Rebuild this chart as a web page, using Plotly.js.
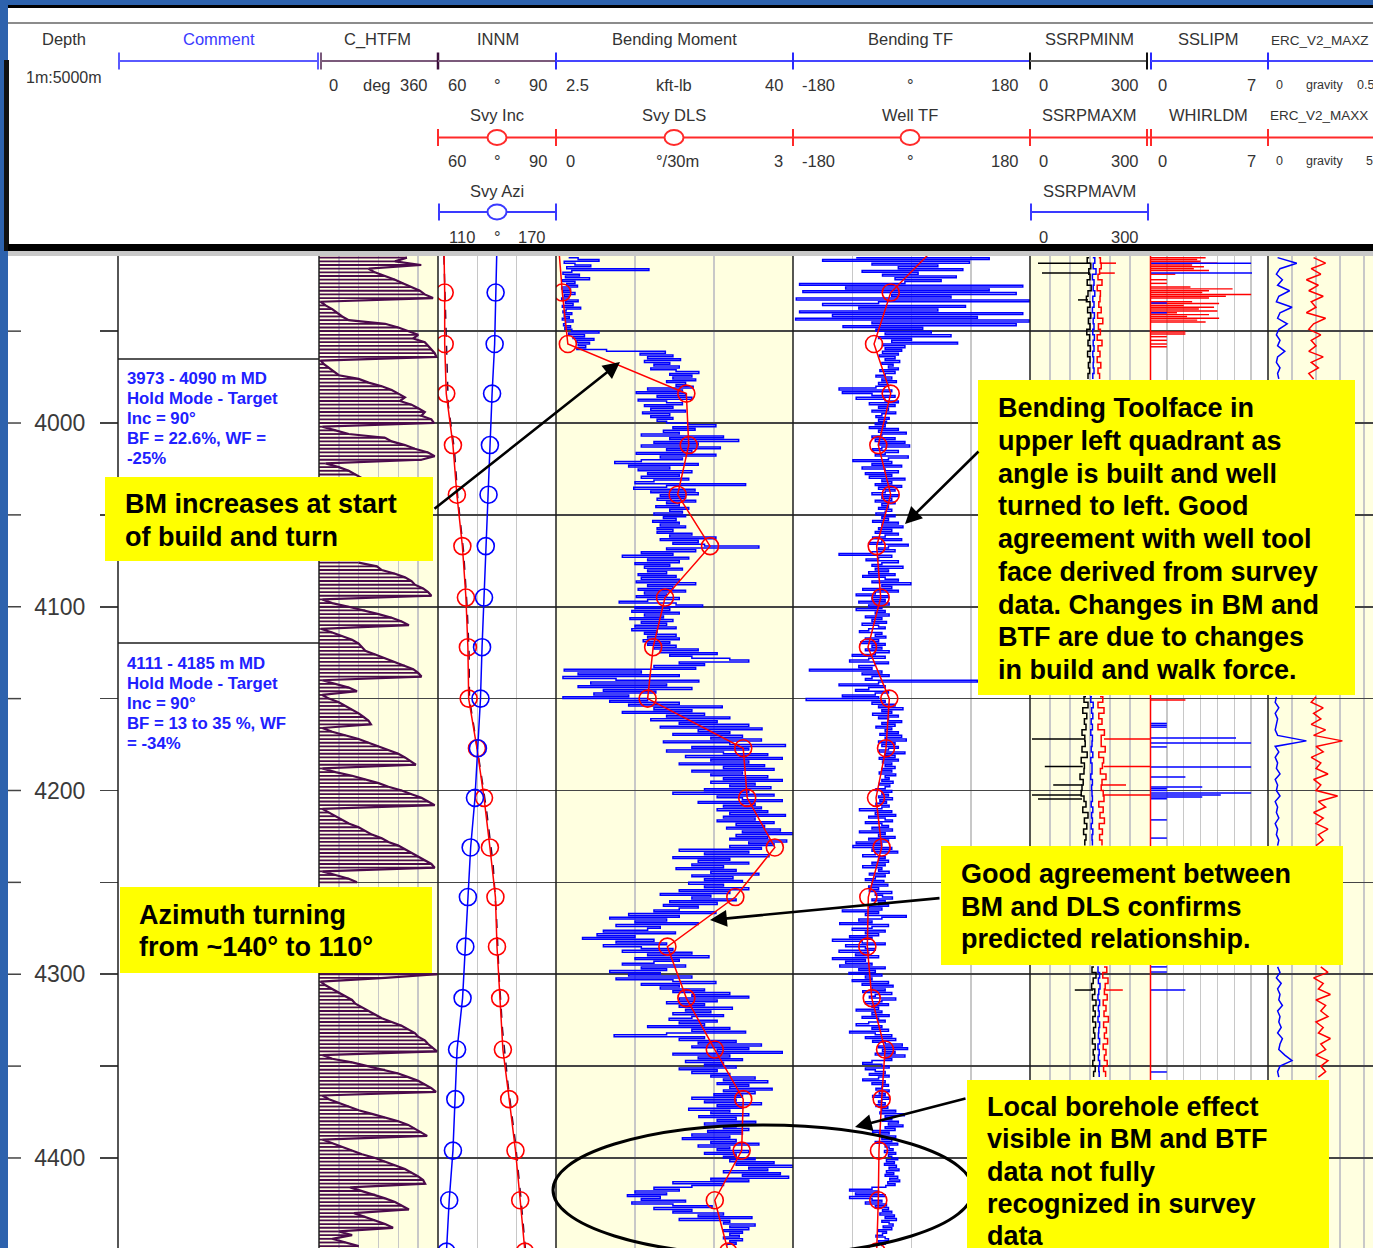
<!DOCTYPE html>
<html>
<head>
<meta charset="utf-8">
<script src="https://cdn.plot.ly/plotly-3.0.1.min.js"></script>
<style>
html,body{margin:0;padding:0;background:#ffffff;overflow:hidden;}
#chart{width:1373px;height:1248px;}
</style>
</head>
<body>
<div id="chart"></div>
<script>
// ================= DATA =================
// 1 m log sample depths (m MD) for Bending Moment / Bending Toolface
const LOG_DEPTH = [
3910,3911,3912,3913,3914,3915,3916,3917,3918,3919,
3920,3921,3922,3923,3924,3925,3926,3927,3928,3929,
3930,3931,3932,3933,3934,3935,3936,3937,3938,3939,
3940,3941,3942,3943,3944,3945,3946,3947,3948,3949,
3950,3951,3952,3953,3954,3955,3956,3957,3958,3959,
3960,3961,3962,3963,3964,3965,3966,3967,3968,3969,
3970,3971,3972,3973,3974,3975,3976,3977,3978,3979,
3980,3981,3982,3983,3984,3985,3986,3987,3988,3989,
3990,3991,3992,3993,3994,3995,3996,3997,3998,3999,
4000,4001,4002,4003,4004,4005,4006,4007,4008,4009,
4010,4011,4012,4013,4014,4015,4016,4017,4018,4019,
4020,4021,4022,4023,4024,4025,4026,4027,4028,4029,
4030,4031,4032,4033,4034,4035,4036,4037,4038,4039,
4040,4041,4042,4043,4044,4045,4046,4047,4048,4049,
4050,4051,4052,4053,4054,4055,4056,4057,4058,4059,
4060,4061,4062,4063,4064,4065,4066,4067,4068,4069,
4070,4071,4072,4073,4074,4075,4076,4077,4078,4079,
4080,4081,4082,4083,4084,4085,4086,4087,4088,4089,
4090,4091,4092,4093,4094,4095,4096,4097,4098,4099,
4100,4101,4102,4103,4104,4105,4106,4107,4108,4109,
4110,4111,4112,4113,4114,4115,4116,4117,4118,4119,
4120,4121,4122,4123,4124,4125,4126,4127,4128,4129,
4130,4131,4132,4133,4134,4135,4136,4137,4138,4139,
4140,4141,4142,4143,4144,4145,4146,4147,4148,4149,
4150,4151,4152,4153,4154,4155,4156,4157,4158,4159,
4160,4161,4162,4163,4164,4165,4166,4167,4168,4169,
4170,4171,4172,4173,4174,4175,4176,4177,4178,4179,
4180,4181,4182,4183,4184,4185,4186,4187,4188,4189,
4190,4191,4192,4193,4194,4195,4196,4197,4198,4199,
4200,4201,4202,4203,4204,4205,4206,4207,4208,4209,
4210,4211,4212,4213,4214,4215,4216,4217,4218,4219,
4220,4221,4222,4223,4224,4225,4226,4227,4228,4229,
4230,4231,4232,4233,4234,4235,4236,4237,4238,4239,
4240,4241,4242,4243,4244,4245,4246,4247,4248,4249,
4250,4251,4252,4253,4254,4255,4256,4257,4258,4259,
4260,4261,4262,4263,4264,4265,4266,4267,4268,4269,
4270,4271,4272,4273,4274,4275,4276,4277,4278,4279,
4280,4281,4282,4283,4284,4285,4286,4287,4288,4289,
4290,4291,4292,4293,4294,4295,4296,4297,4298,4299,
4300,4301,4302,4303,4304,4305,4306,4307,4308,4309,
4310,4311,4312,4313,4314,4315,4316,4317,4318,4319,
4320,4321,4322,4323,4324,4325,4326,4327,4328,4329,
4330,4331,4332,4333,4334,4335,4336,4337,4338,4339,
4340,4341,4342,4343,4344,4345,4346,4347,4348,4349,
4350,4351,4352,4353,4354,4355,4356,4357,4358,4359,
4360,4361,4362,4363,4364,4365,4366,4367,4368,4369,
4370,4371,4372,4373,4374,4375,4376,4377,4378,4379,
4380,4381,4382,4383,4384,4385,4386,4387,4388,4389,
4390,4391,4392,4393,4394,4395,4396,4397,4398,4399,
4400,4401,4402,4403,4404,4405,4406,4407,4408,4409,
4410,4411,4412,4413,4414,4415,4416,4417,4418,4419,
4420,4421,4422,4423,4424,4425,4426,4427,4428,4429,
4430,4431,4432,4433,4434,4435,4436,4437,4438,4439,
4440,4441,4442,4443,4444,4445,4446,4447,4448];

// Bending Moment (kft-lb), one value per LOG_DEPTH
const BENDING_MOMENT = [
4.5,6.0,9.3,3.8,5.5,8.0,4.2,17.2,5.0,3.6,
6.2,4.0,7.8,3.5,5.5,4.2,5.9,3.4,4.8,3.6,
5.5,3.8,4.5,3.4,6.0,4.0,5.2,3.5,6.4,4.1,
3.6,5.0,3.8,4.6,3.5,5.2,4.0,3.7,4.8,3.9,
5.0,9.3,4.5,7.0,5.2,8.5,5.8,7.8,6.0,7.2,
5.8,10.5,19.8,15.8,21.0,17.0,22.2,16.5,20.5,18.0,
22.0,17.5,21.5,25.1,20.5,24.0,21.0,24.6,20.0,23.0,
21.5,24.2,17.0,22.5,15.2,23.0,18.5,24.0,15.5,20.0,
22.5,16.5,21.0,17.5,23.0,16.2,20.5,17.5,21.0,18.5,
20.0,23.5,27.8,21.0,24.5,19.5,22.0,16.0,29.0,20.5,
31.4,18.0,25.0,16.0,28.5,20.0,24.0,15.2,27.8,19.0,
22.5,16.0,11.8,25.0,14.0,20.5,15.5,24.0,17.0,22.0,
16.0,23.5,18.0,15.0,32.5,20.0,14.8,24.5,17.5,25.0,
19.0,23.0,18.5,24.6,20.0,22.0,18.3,23.5,20.5,22.5,
18.0,23.0,19.5,21.5,17.8,22.0,19.0,23.0,18.5,21.0,
18.5,24.0,20.5,27.8,19.0,25.0,21.0,26.0,34.6,20.0,
24.6,16.0,21.0,13.0,23.5,17.0,22.0,15.0,20.5,16.5,
22.5,17.0,20.0,15.5,21.5,16.0,22.0,15.2,24.6,17.0,
21.0,15.5,23.0,16.5,20.0,15.2,22.0,17.0,12.5,21.5,
25.7,15.0,20.5,14.5,22.0,16.5,19.5,14.2,21.0,16.0,
20.0,15.0,21.5,14.5,18.5,16.5,21.5,17.0,22.0,16.3,
20.5,17.0,21.5,18.0,25.0,19.0,28.0,20.5,24.0,30.0,
33.0,22.0,26.0,18.0,24.6,3.8,16.0,6.0,22.0,3.6,
12.0,25.1,8.0,20.0,6.0,24.0,10.0,18.3,8.5,14.0,
3.6,17.0,11.0,22.0,14.0,28.8,18.0,24.0,13.0,26.0,
20.0,30.0,17.5,28.0,22.0,33.0,19.0,35.1,25.0,30.0,
21.0,32.0,27.0,35.0,19.5,30.0,38.8,24.0,33.0,20.0,
29.0,36.0,23.0,38.3,27.0,33.0,22.0,35.5,29.0,37.0,
24.0,32.0,27.0,36.0,29.0,38.3,27.0,34.0,30.0,36.5,
26.0,33.0,21.0,37.0,28.0,32.0,38.3,25.0,34.0,29.0,
35.0,28.0,36.0,30.0,38.8,29.0,34.0,28.0,37.0,31.0,
35.5,29.5,38.0,32.0,40.0,31.0,36.0,30.0,39.0,33.0,
37.0,30.0,35.0,22.0,33.0,26.0,36.2,21.0,30.0,25.0,
33.0,24.0,29.0,21.5,31.0,27.0,34.6,24.0,30.5,26.0,
32.0,23.5,29.0,26.0,33.0,22.0,30.0,19.0,27.0,24.0,
31.0,20.5,28.0,19.5,25.0,22.0,18.0,27.8,14.0,22.0,
11.0,20.0,15.0,25.0,12.0,19.0,17.0,10.0,21.4,9.0,
15.0,6.7,18.0,12.0,20.0,10.0,16.0,21.0,13.0,24.0,
17.0,26.7,15.0,22.0,18.0,13.0,23.0,16.0,20.0,11.0,
19.0,14.0,24.0,12.0,21.0,27.8,16.0,22.0,19.0,26.0,
21.0,30.0,24.0,33.0,22.0,28.0,20.0,26.0,22.0,30.4,
23.0,27.0,21.0,29.0,24.0,20.4,28.0,22.0,26.0,17.0,
30.0,24.0,32.5,20.0,11.7,26.0,22.0,31.0,25.0,35.0,
24.0,33.0,28.0,38.3,21.0,30.0,25.0,32.0,23.0,29.0,
26.0,31.0,22.0,28.0,24.0,30.0,27.0,34.0,29.0,36.0,
28.0,33.0,30.0,36.7,29.0,34.0,27.5,32.0,24.0,31.0,
26.0,35.0,28.0,32.0,23.5,30.0,27.0,33.0,25.1,31.0,
28.0,34.1,26.0,31.0,29.0,33.0,26.5,32.0,24.0,30.0,
22.5,31.0,27.0,34.6,25.0,30.0,28.0,33.0,26.0,31.0,
29.0,34.0,30.0,37.0,31.0,40.0,33.0,36.0,29.0,38.0,
32.0,39.3,27.0,33.0,21.0,29.0,24.0,18.0,22.0,15.0,
20.0,13.8,19.0,16.0,23.0,14.5,21.0,27.2,18.0,24.0,
21.0,29.0,25.0,33.5,22.0,30.0,29.0,34.0,30.0,33.0,
29.0,32.0,30.0,31.5,29.0,32.0,30.0,31.0,29.5];

// Bending Toolface (deg), one value per LOG_DEPTH
const BENDING_TF = [
-84,118,-135,88,-60,40,-20,78,-75,10,
-44,68,-25,45,-10,-170,169,-100,118,-165,
159,-30,60,-175,179,-50,-135,82,-80,40,
-170,169,-120,100,-176,179,-60,159,-104,17,
-54,30,-40,60,-50,0,-30,70,-44,-10,
-40,-15,-44,-20,-49,-25,-40,-18,-45,-28,
-35,-20,-48,-25,-40,-54,-30,-45,-23,-50,
-35,-54,-110,-30,-105,-60,-25,-84,-40,-20,
-64,-25,-50,-35,-60,-24,-45,-54,-34,-50,
-38,-55,-40,-64,-20,-50,-8,-45,-60,-25,
-55,-10,-50,-3,-45,-59,-20,-40,-55,-5,
-35,-89,-30,-60,-15,-75,-40,-20,-70,-30,
-64,-10,-45,-30,-55,-15,-50,-25,-40,-60,
-20,-45,-30,-55,-25,-45,-35,-50,-30,-40,
-54,-25,-45,-35,-59,-20,-45,-13,-50,-30,
-55,-20,-40,-59,-15,-45,-64,-5,-35,-50,
-25,-60,-110,-30,-50,-69,-20,-45,-60,-13,
-55,-35,-65,-25,-74,-40,-20,-60,-1,-45,
-30,-74,-20,-55,-84,-35,-60,-40,-80,-34,
-65,-45,-84,-40,-55,-34,-70,-45,-60,-38,
-75,-50,-40,-65,-79,-45,-55,-39,-70,-50,
-77,-40,-60,-45,-70,-34,-55,-90,-40,-65,
-94,-35,-55,-80,-60,-155,-45,-75,-34,-60,
-70,100,-50,-110,-40,-65,-85,-35,-55,-105,
-50,-160,-40,-60,-25,-50,-13,-45,-30,-59,
-20,-50,-35,-15,-45,-25,-54,-30,-40,-20,
-48,-15,-40,-8,-50,-25,-45,-20,-35,-49,
-10,-40,-25,-49,-20,-44,-30,-40,-25,-45,
-30,-49,-24,-40,-34,-45,-28,-49,-33,-40,
-54,-30,-45,-35,-50,-29,-48,-38,-54,-34,
-45,-79,-30,-55,-24,-65,-40,-29,-70,-45,
-35,-60,-29,-79,-40,-50,-25,-65,-35,-84,
-45,-89,-30,-60,-21,-55,-74,-40,-50,-35,
-60,-40,-74,-45,-50,-34,-64,-40,-55,-70,
-42,-60,-36,-65,-50,-64,-30,-55,-44,-29,
-60,-40,-50,-35,-64,-45,-105,-50,-70,-8,
-45,-80,-60,-109,-35,-60,-90,-40,-70,-50,
-94,-60,-120,-75,-40,-100,-70,-55,-110,-65,
-85,-50,-120,-70,-100,-60,-109,-40,-80,-55,
-95,-45,-70,-60,-90,-35,-75,-28,-60,-40,
-74,-30,-55,-64,-24,-45,-70,-35,-60,-50,
-84,-45,-60,-34,-75,-50,-40,-65,-84,-45,
-60,-35,-94,-55,-30,-70,-24,-59,-40,-14,
-50,-6,-44,-25,-55,-10,-40,-30,-60,-74,
-45,-34,-70,-55,-40,-64,-34,-50,-74,-40,
-60,-35,-45,-54,-34,-49,-40,-59,-34,-45,
-50,-40,-54,-36,-45,-24,-48,-11,-40,-30,
-44,-20,-35,-13,-40,-25,-59,-34,-50,-24,
-45,-30,-55,-21,-40,-34,-28,-41,-24,-35,
-30,-21,-38,-26,-41,-23,-34,-19,-38,-27,
-40,-21,-33,-18,-36,-25,-39,-60,-94,-50,
-85,-40,-94,-60,-45,-70,-38,-55,-35,-44,
-30,-48,-26,-40,-23,-45,-34,-28,-43,-30,
-50,-38,-44,-54,-40,-35,-50,-40,-45];

// C_HTFM high-side toolface (deg) at 2 m samples; null where hidden by the call-out boxes
const HTFM_DEPTH = [
3910,3912,3914,3916,3918,3920,3922,3924,3926,3928,
3930,3932,3934,3936,3938,3940,3942,3944,3946,3948,
3950,3952,3954,3956,3958,3960,3962,3964,3966,3968,
3970,3972,3974,3976,3978,3980,3982,3984,3986,3988,
3990,3992,3994,3996,3998,4000,4002,4004,4006,4008,
4010,4012,4014,4016,4018,4020,4022,4024,4026,4028,
4030,4032,4034,4036,4038,4040,4042,4044,4046,4048,
4050,4052,4054,4056,4058,4060,4062,4064,4066,4068,
4070,4072,4074,4076,4078,4080,4082,4084,4086,4088,
4090,4092,4094,4096,4098,4100,4102,4104,4106,4108,
4110,4112,4114,4116,4118,4120,4122,4124,4126,4128,
4130,4132,4134,4136,4138,4140,4142,4144,4146,4148,
4150,4152,4154,4156,4158,4160,4162,4164,4166,4168,
4170,4172,4174,4176,4178,4180,4182,4184,4186,4188,
4190,4192,4194,4196,4198,4200,4202,4204,4206,4208,
4210,4212,4214,4216,4218,4220,4222,4224,4226,4228,
4230,4232,4234,4236,4238,4240,4242,4244,4246,4248,
4250,4252,4254,4256,4258,4260,4262,4264,4266,4268,
4270,4272,4274,4276,4278,4280,4282,4284,4286,4288,
4290,4292,4294,4296,4298,4300,4302,4304,4306,4308,
4310,4312,4314,4316,4318,4320,4322,4324,4326,4328,
4330,4332,4334,4336,4338,4340,4342,4344,4346,4348,
4350,4352,4354,4356,4358,4360,4362,4364,4366,4368,
4370,4372,4374,4376,4378,4380,4382,4384,4386,4388,
4390,4392,4394,4396,4398,4400,4402,4404,4406,4408,
4410,4412,4414,4416,4418,4420,4422,4424,4426,4428,
4430,4432,4434,4436,4438,4440,4442,4444,4446,4448];
const C_HTFM = [
266,230,309,150,169,200,230,255,280,305,
320,345,5,20,40,55,70,90,200,240,
270,300,285,320,330,340,350,355,5,15,
30,45,60,120,150,190,220,240,260,245,
280,300,320,310,340,348,10,50,90,200,
220,260,290,330,350,310,20,60,90,110,
130,null,null,null,null,null,null,null,null,null,
null,null,null,null,null,null,null,null,null,null,
null,null,null,120,175,190,230,260,280,290,
315,330,340,10,40,90,140,180,220,250,
272,5,40,70,100,120,130,140,170,200,
230,260,285,300,310,10,50,90,115,10,
30,60,80,100,120,135,150,157,10,40,
80,120,150,180,210,240,260,275,293,10,
50,100,140,180,210,250,280,310,330,350,
10,30,50,70,90,120,140,160,190,210,
240,260,280,300,320,340,350,10,50,90,
115,null,null,null,null,null,null,null,null,null,
null,null,null,null,null,null,null,null,null,null,
null,null,null,null,null,357,200,5,20,40,
60,80,100,110,130,150,170,190,220,250,
270,290,300,320,330,345,357,10,40,100,
150,200,240,270,300,320,340,354,10,30,
60,90,120,160,200,240,270,290,310,327,
10,40,70,100,130,170,200,230,260,280,
300,315,321,94,130,170,200,230,250,272,
106,140,170,200,224,60,100,40,80,120];

// Survey stations
const SVY_DEPTH = [3902,3929,3957,3984,4012,4039,4067,4095,4122,4150,4177,4204,4231,4258,4285,4313,4341,4368,4396,4423,4451];
const SVY_INC   = [61.5,61.7,61.7,62.1,63.8,64.8,66.2,67.1,67.6,67.8,69.9,71.7,73.2,74.6,75.0,75.8,76.5,78.1,79.7,80.9,82.1];
const SVY_AZI   = [140.0,139.3,138.8,137.5,136.4,135.7,134.3,133.4,132.4,131.6,130.3,128.8,126.6,125.2,123.9,122.5,119.7,118.8,117.6,115.7,114.3];
const SVY_DLS   = [0.03,0.08,0.15,1.65,1.68,1.54,1.95,1.38,1.23,1.16,2.37,2.42,2.77,2.27,1.41,1.65,2.01,2.37,2.35,2.01,2.18];
const SVY_WTF   = [43,-31.6,-56.9,-31.6,-50.4,-31.6,-52.9,-46.8,-66.1,-33.7,-38.7,-53.9,-45.3,-65.6,-67.1,-60.4,-40.2,-45.3,-49.4,-50.4,-52.9];

// INNM continuous inclination (deg)
const INNM_DEPTH = [3909,3935,3960,3990,4015,4040,4070,4100,4125,4150,4180,4210,4240,4270,4300,4330,4360,4390,4420,4449];
const INNM       = [61.5,61.9,62.1,62.6,64.2,65.0,66.5,67.4,67.9,68.0,70.2,72.3,74.0,74.9,75.5,76.4,77.8,79.6,81.0,82.2];

// Depths of the visible stretches of the RPM / ERC tracks (null = hidden by boxes)
const BLOCK_DEPTH = [3910,3913,3916,3919,3922,3925,3928,3931,3934,3937,3940,3943,3946,3949,3952,3955,3958,3961,3964,3967,3970,3973,3976,null,
4149,4152,4155,4158,4161,4164,4167,4170,4173,4176,4179,4182,4185,4188,4191,4194,4197,4200,4203,4206,4209,4212,4215,4218,4221,4224,4227,4230,null,
4296,4299,4302,4305,4308,4311,4314,4317,4320,4323,4326,4329,4332,4335,4338,4341,4344,4347,4350,4353,4356];
const SSRPMINM = [148,143,152,147,150,143,153,145,141,150,144,152,146,150,142,149,145,151,144,150,146,149,145,null,
140,135,145,132,142,136,140,130,137,138,130,143,128,136,135,125,133,130,128,135,140,132,145,136,142,134,140,137,null,
160,155,165,158,154,162,156,165,158,163,157,164,159,162,156,163,158,161,157,163,159];
const SSRPMAVM = [157,162,158,165,156,160,158,162,157,160,156,161,158,160,157,161,158,160,157,159,158,160,157,null,
155,152,158,154,157,153,156,152,156,155,153,157,152,155,155,152,156,154,155,156,153,157,154,156,153,157,155,156,null,
172,170,174,171,175,172,170,174,171,173,170,174,172,171,174,170,173,171,174,172,173];
const SSRPMAXM = [172,176,178,174,170,180,168,176,175,172,178,169,182,171,176,168,180,170,175,168,177,170,174,null,
175,182,170,185,172,180,170,186,178,178,188,172,184,181,176,190,180,178,183,185,172,183,175,186,173,181,174,180,null,
185,192,182,195,188,186,193,183,190,185,196,184,191,186,194,183,190,186,193,184,189];
// single-sample RPM excursions (horizontal spikes)
const RPM_SPIKE_DEPTH = [3913,3918.4,3933,4172,4187,4197,4202.5,4204.6,4308.6];
const RPM_MIN_LOW     = [20,30,120,5,37,58,5,20,112];
const RPM_MIN_HIGH    = [150,150,145,135,132,130,130,130,158];
const RPM_MAX_LOW     = [176,175,null,185,184,180,183,null,188];
const RPM_MAX_HIGH    = [215,212,null,300,300,240,300,null,232];

const ERC_MAXZ = [0.04,0.12,0.05,0.035,0.06,0.04,0.09,0.045,0.035,0.1,0.05,0.04,0.08,0.045,0.035,0.05,0.04,0.07,0.04,0.035,0.05,0.04,0.045,null,
0.035,0.03,0.045,0.03,0.04,0.035,0.03,0.04,0.16,0.03,0.045,0.03,0.04,0.035,0.05,0.03,0.04,0.035,0.05,0.03,0.04,0.035,0.045,0.03,0.04,0.035,0.045,0.04,null,
0.04,0.05,0.035,0.055,0.04,0.05,0.045,0.06,0.04,0.05,0.045,0.055,0.04,0.06,0.05,0.045,0.07,0.1,0.05,0.04,0.045];
const ERC_MAXX = [1.9,2.4,1.8,2.2,1.6,2.1,1.7,2.3,1.8,2.0,1.6,2.4,1.9,1.7,2.2,1.8,2.0,1.7,2.3,1.8,2.1,1.7,1.9,null,
2.0,1.8,2.3,1.9,2.2,1.8,2.4,1.9,3.1,2.0,2.3,1.8,2.2,2.0,2.5,1.9,2.2,2.0,2.9,2.1,2.4,1.9,2.3,2.0,2.5,2.1,2.3,2.0,null,
2.2,2.5,1.9,2.3,2.1,2.6,2.0,2.4,2.2,2.5,2.0,2.3,2.1,2.6,2.2,2.4,2.0,2.5,2.2,2.4,2.1];

// SSLIPM (blue) and WHIRLDM (red) events
const SLIP_DEPTH = [3913,3918.4,3934.7,3940,4163.5,4164.5,4165.5,4171.4,4174.1,4176.3,4187.2,4192.7,4198.1,4199,4200,4201.4,4202.5,4203.5,4204.5,4216,4225.9,4296,4298.8,4308.6,4353.2];
const SSLIPM     = [6.0,6.05,1.0,1.0,1.0,1.0,1.0,5.1,6.0,1.0,6.0,2.1,3.1,1.0,1.0,6.0,4.2,3.1,1.0,1.0,1.0,1.0,1.0,2.1,1.0];
const WHIRL_DEPTH = [3910,3911,3912,3913,3914,3915,3916,3917,3919,3922,3924,3926,3927,3928,3929,3930,3931,3932,3934,3935,3936,3937,3938,3939,3940,3941,3942,3943,3944,3945,3950.5,3951.5,3953,3955,3957,3958.5,4150.7];
const WHIRLDM     = [3.3,2.8,3.0,4.0,2.5,3.2,2.6,3.5,1.5,1.0,1.0,2.4,4.9,3.5,3.1,6.0,4.5,3.5,2.5,4.1,2.0,3.8,2.9,4.0,1.6,3.5,2.2,4.1,2.8,3.3,2.1,2.1,1.0,1.0,1.0,1.0,2.1];

// Depth axis ticks
const DEPTH_TICKS  = [3950,4000,4050,4100,4150,4200,4250,4300,4350,4400];
const DEPTH_LABELS = ['','4000','','4100','','4200','','4300','','4400'];

// Texts
const COMMENT_1 = ['3973 - 4090 m MD','Hold Mode - Target','Inc = 90°','BF = 22.6%, WF =','-25%'];
const COMMENT_2 = ['4111 - 4185 m MD','Hold Mode - Target','Inc = 90°','BF = 13 to 35 %, WF','= -34%'];
const NOTE_BM   = ['BM increases at start','of build and turn'];
const NOTE_BTF  = ['Bending Toolface in','upper left quadrant as','angle is built and well','turned to left. Good','agreement with well tool','face derived from survey','data. Changes in BM and','BTF are due to changes','in build and walk force.'];
const NOTE_DLS  = ['Good agreement between','BM and DLS confirms','predicted relationship.'];
const NOTE_AZI  = ['Azimuth turning','from ~140° to 110°'];
const NOTE_LOC  = ['Local borehole effect','visible in BM and BTF','data not fully','recognized in survey','data'];

// ================= LAYOUT HELPERS =================
const W = 1373, H = 1248;
const PX = v => v / W;
const PY = v => 1 - v / H;
const FONT = 'Liberation Sans, Arial, Helvetica, sans-serif';
const YEL = '#FFFFE0';
const BLUE = '#0000FF', RED = '#FF0000', PURPLE = '#4B0A4B';

// build horizontal spike segments (x pairs at one depth, separated by null)
function spikes(depths, lows, highs) {
  const xs = [], ys = [];
  depths.forEach((d, i) => {
    if (lows[i] === null || highs[i] === null) return;
    xs.push(lows[i], highs[i], null); ys.push(d, d, null);
  });
  return {x: xs, y: ys};
}
const minSp = spikes(RPM_SPIKE_DEPTH, RPM_MIN_LOW, RPM_MIN_HIGH);
const maxSp = spikes(RPM_SPIKE_DEPTH, RPM_MAX_LOW, RPM_MAX_HIGH);

const traces = [];
const common = {hoverinfo:'skip', showlegend:false, yaxis:'y'};
traces.push(Object.assign({type:'bar', orientation:'h', x:C_HTFM, y:HTFM_DEPTH, width:1.0, xaxis:'x',
  marker:{color:PURPLE, line:{width:0}}}, common));
traces.push(Object.assign({type:'scatter', mode:'lines', x:C_HTFM, y:HTFM_DEPTH, xaxis:'x',
  line:{color:PURPLE, width:2.2}, connectgaps:false}, common));
traces.push(Object.assign({type:'scatter', mode:'lines', x:INNM, y:INNM_DEPTH, xaxis:'x2',
  line:{color:'#3a0a3a', width:1.5, dash:'dash'}}, common));
traces.push(Object.assign({type:'scatter', mode:'lines+markers', x:SVY_AZI, y:SVY_DEPTH, xaxis:'x3',
  line:{color:BLUE, width:1.5}, marker:{symbol:'circle-open', size:17, color:BLUE, line:{width:1.6, color:BLUE}}}, common));
traces.push(Object.assign({type:'scatter', mode:'lines+markers', x:SVY_INC, y:SVY_DEPTH, xaxis:'x2',
  line:{color:RED, width:1.5}, marker:{symbol:'circle-open', size:17, color:RED, line:{width:1.6, color:RED}}}, common));
traces.push(Object.assign({type:'scatter', mode:'lines', x:BENDING_MOMENT, y:LOG_DEPTH, xaxis:'x4',
  line:{color:BLUE, width:1.5, shape:'hv'}}, common));
traces.push(Object.assign({type:'scatter', mode:'lines+markers', x:SVY_DLS, y:SVY_DEPTH, xaxis:'x5',
  line:{color:RED, width:1.5}, marker:{symbol:'circle-open', size:17, color:RED, line:{width:1.6, color:RED}}}, common));
traces.push(Object.assign({type:'scatter', mode:'lines', x:BENDING_TF, y:LOG_DEPTH, xaxis:'x6',
  line:{color:BLUE, width:1.5, shape:'hv'}}, common));
traces.push(Object.assign({type:'scatter', mode:'lines+markers', x:SVY_WTF, y:SVY_DEPTH, xaxis:'x6',
  line:{color:RED, width:1.5}, marker:{symbol:'circle-open', size:17, color:RED, line:{width:1.6, color:RED}}}, common));
traces.push(Object.assign({type:'scatter', mode:'lines', x:SSRPMINM, y:BLOCK_DEPTH, xaxis:'x7',
  line:{color:'#000000', width:1.5, shape:'hv'}, connectgaps:false}, common));
traces.push(Object.assign({type:'scatter', mode:'lines', x:minSp.x, y:minSp.y, xaxis:'x7',
  line:{color:'#000000', width:1.5}, connectgaps:false}, common));
traces.push(Object.assign({type:'scatter', mode:'lines', x:SSRPMAVM, y:BLOCK_DEPTH, xaxis:'x7',
  line:{color:BLUE, width:1.5, shape:'hv'}, connectgaps:false}, common));
traces.push(Object.assign({type:'scatter', mode:'lines', x:SSRPMAXM, y:BLOCK_DEPTH, xaxis:'x7',
  line:{color:RED, width:1.5, shape:'hv'}, connectgaps:false}, common));
traces.push(Object.assign({type:'scatter', mode:'lines', x:maxSp.x, y:maxSp.y, xaxis:'x7',
  line:{color:RED, width:1.5}, connectgaps:false}, common));
traces.push(Object.assign({type:'bar', orientation:'h', x:WHIRLDM, y:WHIRL_DEPTH, width:0.8, xaxis:'x8',
  marker:{color:RED, line:{width:0}}}, common));
traces.push(Object.assign({type:'bar', orientation:'h', x:SSLIPM, y:SLIP_DEPTH, width:0.8, xaxis:'x8',
  marker:{color:BLUE, line:{width:0}}}, common));
traces.push(Object.assign({type:'scatter', mode:'lines', x:ERC_MAXZ, y:BLOCK_DEPTH, xaxis:'x9',
  line:{color:BLUE, width:1.5}, connectgaps:false}, common));
traces.push(Object.assign({type:'scatter', mode:'lines', x:ERC_MAXX, y:BLOCK_DEPTH, xaxis:'x10',
  line:{color:RED, width:1.5}, connectgaps:false}, common));

function xa(d0, d1, range, dtick, tick0) {
  return {domain:[PX(d0), PX(d1)], range:range, anchor:'y', showgrid:true, gridcolor:'#c8c8c8', gridwidth:1.5,
    dtick:dtick, tick0:tick0, tickmode:'linear', showticklabels:false, ticks:'', showline:false, zeroline:false, fixedrange:true};
}
function xo(base, range) {
  return {overlaying:base, range:range, anchor:'y', visible:false, showgrid:false, zeroline:false, fixedrange:true};
}

const shapes = [];
function rect(x0, y0, x1, y1, fill, layer) {
  shapes.push({type:'rect', xref:'paper', yref:'paper', x0:PX(x0), x1:PX(x1), y0:PY(y1), y1:PY(y0),
    fillcolor:fill, line:{width:0}, layer:layer || 'above'});
}
function seg(x0, y0, x1, y1, color, w) {
  shapes.push({type:'line', xref:'paper', yref:'paper', x0:PX(x0), x1:PX(x1), y0:PY(y0), y1:PY(y1),
    line:{color:color, width:w}, layer:'above'});
}
function ell(cx, cy, rw, rh, color, w, fill) {
  shapes.push({type:'circle', xref:'paper', yref:'paper', x0:PX(cx - rw), x1:PX(cx + rw), y0:PY(cy + rh), y1:PY(cy - rh),
    line:{color:color, width:w}, fillcolor:fill || 'rgba(0,0,0,0)', layer:'above'});
}

// track backgrounds
rect(319, 256, 438, 1248, YEL, 'below');
rect(556, 256, 793, 1248, YEL, 'below');
rect(1030, 256, 1150, 1248, YEL, 'below');
rect(1268, 256, 1373, 1248, YEL, 'below');

// track borders
[319, 438, 556, 793, 1030, 1268].forEach(x => seg(x, 256, x, 1248, '#1e1e1e', 1.5));
seg(118, 256, 118, 1248, '#1e1e1e', 1.5);
seg(1150.5, 256, 1150.5, 1248, RED, 1.5);
// comment separators
seg(118, 359, 319, 359, '#1e1e1e', 1.5);
seg(118, 643, 319, 643, '#1e1e1e', 1.5);
// left depth ticks
DEPTH_TICKS.forEach(d => shapes.push({type:'line', xref:'paper', yref:'y', x0:PX(8), x1:PX(21), y0:d, y1:d,
  line:{color:'#444', width:1.5}, layer:'above'}));

// frame
rect(0, 0, 1373, 5, '#2D62AD');
rect(8, 5, 1373, 8, '#000');
rect(0, 0, 8, 1248, '#2D62AD');
rect(4, 60, 9, 251, '#111');
seg(8, 23, 1373, 23, '#8c8c8c', 2);
rect(8, 244, 1373, 251, '#000');
rect(8, 251, 1373, 256, '#c8c8c8');

// header scale lines
function tick(x, y, color, w) { seg(x, y - 8.5, x, y + 8.5, color, w || 2); }
const R1 = 61, R2 = 137.5, R3 = 212;
seg(118, R1, 319, R1, '#5a5aff', 2); tick(119, R1, '#5a5aff'); tick(318, R1, '#5a5aff');
seg(321, R1, 438, R1, '#7b5a7b', 2); tick(321, R1, '#7b5a7b'); tick(438, R1, '#3d0f3d', 2.5);
seg(438, R1, 556, R1, '#7b5a7b', 2); tick(556, R1, '#2a2aff');
seg(556, R1, 1030, R1, '#4545ff', 2); tick(793, R1, '#2a2aff'); tick(1030, R1, '#111');
seg(1030, R1, 1148, R1, '#666', 2); tick(1147, R1, '#111'); tick(1151, R1, '#2a2aff');
seg(1151, R1, 1373, R1, '#4545ff', 2); tick(1268, R1, '#2a2aff');

seg(438, R2, 1373, R2, '#ff2a2a', 2);
[438, 556, 793, 1030, 1147, 1151, 1268].forEach(x => tick(x, R2, '#ff2a2a'));
[497, 674, 910].forEach(x => ell(x, R2, 9.5, 7.5, '#ff2a2a', 2, '#ffffff'));

seg(438, R3, 556, R3, '#3a3aff', 2); tick(439, R3, '#3a3aff'); tick(556, R3, '#3a3aff');
ell(497, R3, 9.5, 7.5, '#3a3aff', 2, '#ffffff');
seg(1030, R3, 1148, R3, '#3a3aff', 2); tick(1031, R3, '#3a3aff'); tick(1148, R3, '#3a3aff');

// ellipse around local borehole effect
ell(763, 1190, 210, 65, '#000', 3);

// yellow call-out boxes
rect(105, 477, 433, 561, '#FFFF00');
rect(978, 380, 1355, 695, '#FFFF00');
rect(941, 846, 1343, 965, '#FFFF00');
rect(120, 887, 432, 973, '#FFFF00');
rect(967, 1080, 1329, 1262, '#FFFF00');

// annotations
const ann = [];
const HS = 16.5;
function t(text, x, y, size, color, xanchor) {
  ann.push({text:text, x:PX(x), y:PY(y), xref:'paper', yref:'paper', xanchor:xanchor || 'center', yanchor:'middle',
    showarrow:false, font:{family:FONT, size:size || HS, color:color || '#333'}, borderpad:0});
}
t('Depth', 64, 39); t('Comment', 219, 39, HS, '#3a3aff'); t('C_HTFM', 378, 39); t('INNM', 498, 39);
t('Bending Moment', 674, 39); t('Bending TF', 910, 39); t('SSRPMINM', 1089, 39); t('SSLIPM', 1208, 39);
t('ERC_V2_MAXZ', 1270, 40, 13.5, '#333', 'left');
t('1m:5000m', 64, 77, 16);
t('0', 333, 85); t('deg', 377, 85); t('360', 414, 85);
t('60', 457, 85); t('°', 497, 85); t('90', 538, 85);
t('2.5', 577, 85); t('kft-lb', 674, 85); t('40', 774, 85);
t('-180', 818, 85); t('°', 910, 85); t('180', 1005, 85);
t('0', 1043, 85); t('300', 1125, 85); t('0', 1162, 85); t('7', 1251, 85);
t('0', 1279, 85, 12.5); t('gravity', 1325, 85, 12.5); t('0.5', 1356, 85, 12.5, '#333', 'left');
t('Svy Inc', 497, 115); t('Svy DLS', 674, 115); t('Well TF', 910, 115); t('SSRPMAXM', 1089, 115);
t('WHIRLDM', 1208, 115); t('ERC_V2_MAXX', 1269, 115, 13.5, '#333', 'left');
t('60', 457, 161); t('°', 497, 161); t('90', 538, 161);
t('0', 570, 161); t('°/30m', 677, 161); t('3', 778, 161);
t('-180', 818, 161); t('°', 910, 161); t('180', 1005, 161);
t('0', 1043, 161); t('300', 1125, 161); t('0', 1162, 161); t('7', 1251, 161);
t('0', 1279, 161, 12.5); t('gravity', 1325, 161, 12.5); t('5', 1369, 161, 12.5);
t('Svy Azi', 497, 191); t('SSRPMAVM', 1089, 191);
t('110', 462, 237); t('°', 497, 237); t('170', 532, 237);
t('0', 1043, 237); t('300', 1125, 237);

function textLines(lines, x, firstCenter, step, size, color) {
  lines.forEach((s, i) => ann.push({text:'<b>' + s + '</b>', x:PX(x), y:PY(firstCenter + i * step), xref:'paper', yref:'paper',
    xanchor:'left', yanchor:'middle', align:'left', showarrow:false, borderpad:0, borderwidth:0,
    font:{family:FONT, size:size, color:color}}));
}
textLines(COMMENT_1, 127, 378, 20.2, 16.8, '#2020ff');
textLines(COMMENT_2, 127, 663, 20.2, 16.8, '#2020ff');
textLines(NOTE_BM, 125, 504, 33, 27, '#000');
textLines(NOTE_BTF, 998, 408, 32.75, 27, '#000');
textLines(NOTE_DLS, 961, 874, 32.5, 27, '#000');
textLines(NOTE_AZI, 139, 915, 32, 27, '#000');
textLines(NOTE_LOC, 987, 1107, 32.3, 27, '#000');

function arrow(hx, hy, tx, ty) {
  ann.push({text:'', x:PX(hx), y:PY(hy), xref:'paper', yref:'paper', ax:tx - hx, ay:ty - hy,
    showarrow:true, arrowhead:2, arrowsize:1.3, arrowwidth:2.6, arrowcolor:'#000', standoff:0, startstandoff:0});
}
arrow(620, 362, 433, 510);
arrow(905, 524, 980, 450);
arrow(710, 920, 941, 898);
arrow(855, 1127, 967, 1098);

const layout = {
  width:W, height:H, autosize:false, margin:{l:0, r:0, t:0, b:0, pad:0},
  paper_bgcolor:'#ffffff', plot_bgcolor:'rgba(0,0,0,0)', barmode:'overlay', hovermode:false,
  font:{family:FONT, color:'#333'},
  xaxis: xa(319, 438, [0, 360], 60, 0),
  xaxis2: xa(438, 556, [60, 90], 10, 60),
  xaxis3: xo('x2', [110, 170]),
  xaxis4: xa(556, 793, [2.5, 40], 12.5, 2.5),
  xaxis5: xo('x4', [0, 3]),
  xaxis6: xa(793, 1030, [-180, 180], 90, -180),
  xaxis7: xa(1030, 1150, [0, 300], 50, 0),
  xaxis8: xa(1150, 1268, [0, 7], 1, 0),
  xaxis9: xa(1268, 1373, [0, 0.4375], 0.1, 0),
  xaxis10: xo('x9', [0, 4.375]),
  yaxis: {domain:[0, PY(256)], range:[4449.0, 3909.1], anchor:'free', position:PX(118), side:'left',
    tickmode:'array', tickvals:DEPTH_TICKS, ticktext:DEPTH_LABELS, ticks:'outside', ticklen:18, tickwidth:1.5,
    tickcolor:'#444', ticklabelstandoff:10, tickfont:{family:FONT, size:23, color:'#3a3a3a'},
    showgrid:true, gridcolor:'#454545', gridwidth:1.5, showline:false, zeroline:false, fixedrange:true},
  shapes:shapes,
  annotations:ann
};

Plotly.newPlot('chart', traces, layout, {staticPlot:true, displayModeBar:false});
</script>
</body>
</html>
